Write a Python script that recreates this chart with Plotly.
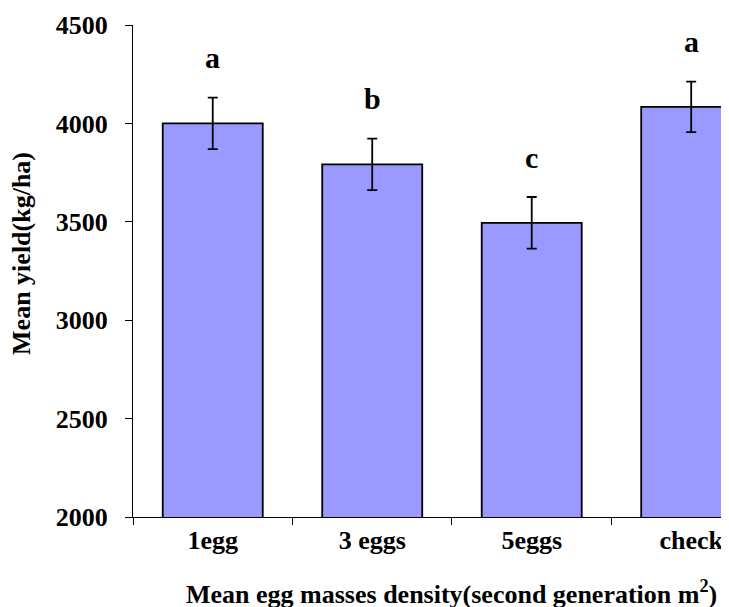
import plotly.graph_objects as go

categories = ["1egg", "3 eggs", "5eggs", "check"]
mean_yield = [4000, 3792, 3495, 4084]
std_err = [131, 131, 131, 128]
letters = ["a", "b", "c", "a"]
y_ticks = [2000, 2500, 3000, 3500, 4000, 4500]

FONT = "Liberation Serif"

fig = go.Figure()
fig.add_trace(go.Bar(
    x=categories,
    y=mean_yield,
    marker=dict(color="#9999FF", line=dict(color="black", width=1.8)),
    error_y=dict(type="data", array=std_err, visible=True,
                 color="black", thickness=1.8, width=5),
    showlegend=False,
))

for cat, m, e, lab in zip(categories, mean_yield, std_err, letters):
    fig.add_annotation(x=cat, y=m + e, text=lab, showarrow=False,
                       yanchor="middle", yshift=40,
                       font=dict(family=FONT, size=30, color="black", weight="bold"))

fig.add_annotation(xref="paper", yref="paper", x=-0.186, y=0.535,
                   text="Mean yield(kg/ha)", textangle=-90,
                   showarrow=False, xanchor="center", yanchor="middle",
                   font=dict(family=FONT, size=26, color="black", weight="bold"))
fig.add_annotation(xref="paper", yref="paper", x=0.535, y=-0.153,
                   text="Mean egg masses density(second generation m<sup>2</sup>)",
                   showarrow=False, xanchor="center", yanchor="middle",
                   font=dict(family=FONT, size=26, color="black", weight="bold"))

fig.update_layout(
    width=721, height=599,
    margin=dict(l=125, r=0, t=17, b=90),
    paper_bgcolor="white", plot_bgcolor="white",
    bargap=0.373,
)
fig.update_xaxes(
    type="category", range=[-0.5, 3.237],
    showline=True, linecolor="black", linewidth=1,
    ticks="outside", tickson="boundaries", ticklen=7, tickcolor="black",
    tickfont=dict(family=FONT, size=26, color="black", weight="bold"),
    showgrid=False, zeroline=False,
)
fig.update_yaxes(
    range=[2000, 4500], tickvals=y_ticks,
    showline=True, linecolor="black", linewidth=1,
    ticks="outside", ticklen=7, tickcolor="black",
    ticklabelstandoff=12,
    tickfont=dict(family=FONT, size=26, color="black", weight="bold"),
    showgrid=False, zeroline=False,
)

fig.write_html("out.html")
